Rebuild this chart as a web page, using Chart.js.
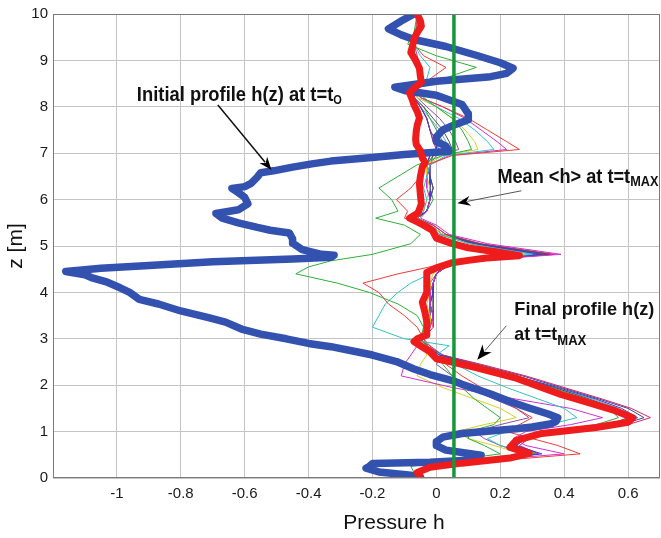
<!DOCTYPE html>
<html>
<head>
<meta charset="utf-8">
<script src="https://cdn.jsdelivr.net/npm/chart.js@4.4.1/dist/chart.umd.min.js"></script>
<style>
  html, body { margin: 0; padding: 0; background: #ffffff; }
  #wrap { width: 661px; height: 538px; }
</style>
</head>
<body>
<div id="wrap"><canvas id="c" width="661" height="538"></canvas></div>
<script>
// ---------- DATA ----------
const xTickValues = [-1, -0.8, -0.6, -0.4, -0.2, 0, 0.2, 0.4, 0.6];
const yTickValues = [0, 1, 2, 3, 4, 5, 6, 7, 8, 9, 10];

// Initial profile h(z) at t = t0 (thick blue)
const blueZ = [10.0,9.85,9.68,9.55,9.45,9.3,9.1,8.95,8.83,8.72,
  8.65,8.55,8.42,8.35,8.25,8.05,7.85,7.72,7.62,7.5,
  7.35,7.25,7.15,7.04,6.97,6.9,6.83,6.77,6.7,6.62,
  6.58,6.49,6.35,6.28,6.24,6.15,6.05,5.91,5.78,5.7,
  5.6,5.5,5.4,5.34,5.28,5.15,5.06,4.92,4.82,4.8,
  4.76,4.72,4.66,4.58,4.52,4.45,4.38,4.32,4.22,4.1,
  4.0,3.85,3.75,3.6,3.45,3.36,3.21,3.1,3.0,2.9,
  2.83,2.72,2.65,2.51,2.35,2.23,2.1,2.02,1.81,1.65,
  1.51,1.38,1.3,1.22,1.17,1.1,1.06,1.0,0.96,0.88,
  0.78,0.7,0.6,0.55,0.49,0.42,0.38,0.34,0.31,0.25,
  0.21,0.13,0.06,0.02];
const blueH = [-0.07,-0.11,-0.15,-0.11,-0.07,0.03,0.13,0.2,0.24,0.22,
  0.17,0.0,-0.13,-0.1,0.0,0.08,0.1,0.1,0.06,0.02,
  0.0,0.0,0.03,0.04,-0.1,-0.21,-0.33,-0.39,-0.45,-0.51,
  -0.55,-0.56,-0.58,-0.6,-0.64,-0.62,-0.6,-0.59,-0.62,-0.69,
  -0.67,-0.62,-0.56,-0.52,-0.46,-0.45,-0.45,-0.42,-0.36,-0.32,
  -0.33,-0.45,-0.7,-0.9,-1.05,-1.16,-1.1,-1.08,-1.03,-0.99,
  -0.96,-0.93,-0.87,-0.8,-0.71,-0.66,-0.61,-0.55,-0.47,-0.4,
  -0.33,-0.25,-0.2,-0.125,-0.07,-0.02,0.05,0.08,0.17,0.23,
  0.29,0.35,0.38,0.375,0.36,0.3,0.25,0.15,0.08,0.02,
  0.0,0.0,0.03,0.08,0.14,0.13,0.1,-0.02,-0.2,-0.21,
  -0.22,-0.18,-0.08,-0.05];

// Final profile h(z) at t = tMAX (thick red)
const redZ = [10.0,9.85,9.74,9.6,9.46,9.3,9.17,9.0,8.83,8.65,
  8.53,8.4,8.3,8.15,8.04,7.9,7.76,7.6,7.47,7.3,
  7.19,7.05,6.9,6.8,6.7,6.5,6.34,6.1,5.91,5.75,
  5.7,5.6,5.53,5.45,5.34,5.17,5.05,4.96,4.88,4.79,
  4.74,4.69,4.64,4.53,4.43,4.2,4.0,3.79,3.55,3.36,
  3.2,3.08,3.0,2.94,2.85,2.72,2.57,2.48,2.37,2.15,
  1.8,1.45,1.3,1.2,1.09,0.96,0.81,0.66,0.53,0.43,
  0.32,0.23,0.12,0.02];
const redH = [-0.06,-0.05,-0.047,-0.06,-0.07,-0.075,-0.08,-0.065,-0.053,-0.05,
  -0.047,-0.07,-0.084,-0.075,-0.07,-0.06,-0.053,-0.06,-0.063,-0.065,
  -0.063,-0.05,-0.044,-0.035,-0.044,-0.05,-0.053,-0.05,-0.047,-0.055,
  -0.06,-0.084,-0.063,-0.04,-0.013,0.0,0.05,0.1,0.18,0.26,
  0.156,0.1,0.05,0.0,-0.03,-0.03,-0.03,-0.044,-0.035,-0.03,
  -0.03,-0.03,-0.06,-0.07,-0.05,-0.02,0.0,0.06,0.13,0.25,
  0.39,0.56,0.615,0.6,0.5,0.33,0.25,0.23,0.29,0.23,
  0.08,-0.02,-0.06,-0.05];

// Mean <h> at t = tMAX
const meanH = 0.055;
const meanZ = [0, 10];

// Intermediate profiles (thin lines), sampled on a common depth grid
const zGrid = [10,9.6,9.35,9.1,8.85, 8.6,8.4,8.2,8.0,7.75, 7.5,7.25,7.08,6.95,6.75,
  6.5,6.25,6.0,5.75,5.6, 5.45,5.25,5.05,4.82,4.68, 4.55,4.4,4.2,4.0,3.75,
  3.5,3.25,3.0,2.85,2.65, 2.45,2.2,1.95,1.7,1.5, 1.3,1.15,1.0,0.85,0.7,
  0.52,0.38,0.25,0.12,0];

const hGreenA = [-0.06,-0.07,-0.09,0.00,0.125, 0.02,-0.06,-0.04,0.00,0.05, 0.08,0.10,0.11,0.02,-0.06,
  -0.12,-0.18,-0.14,-0.12,-0.19, -0.10,-0.05,-0.08,-0.20,-0.33, -0.40,-0.44,-0.31,-0.21,-0.12,
  -0.06,-0.04,-0.05,-0.03,0.00, 0.02,0.05,0.08,0.12,0.16, 0.20,0.18,0.10,0.10,0.15,
  0.20,0.05,-0.08,-0.07,-0.06];
const hRedA = [-0.06,-0.065,-0.07,-0.04,0.03, -0.02,-0.06,-0.05,0.02,0.10, 0.16,0.22,0.26,0.05,-0.03,
  -0.05,-0.08,-0.125,-0.09,-0.10, -0.04,0.00,0.08,0.20,0.05, -0.02,-0.12,-0.23,-0.18,-0.15,
  -0.10,-0.06,-0.04,-0.02,0.00, 0.03,0.08,0.14,0.20,0.25, 0.30,0.26,0.22,0.30,0.38,
  0.45,0.20,-0.02,-0.06,-0.06];
const hCyanA = [-0.06,-0.06,-0.07,-0.05,-0.02, -0.03,-0.06,-0.05,0.00,0.07, 0.12,0.16,0.18,0.03,-0.02,
  -0.03,-0.04,-0.03,-0.04,-0.06, -0.02,0.01,0.10,0.30,0.07, 0.01,-0.02,-0.08,-0.12,-0.16,
  -0.18,-0.20,-0.10,0.04,0.00, 0.06,0.13,0.22,0.32,0.40, 0.44,0.35,0.22,0.16,0.20,
  0.30,0.12,-0.01,-0.06,-0.06];
const hMagentaA = [-0.06,-0.06,-0.07,-0.06,-0.05, -0.05,-0.07,-0.05,0.02,0.09, 0.14,0.19,0.22,0.04,-0.02,
  -0.03,-0.03,-0.02,-0.03,-0.05, 0.00,0.04,0.16,0.39,0.10, 0.03,0.00,-0.01,-0.02,-0.02,
  -0.01,-0.02,-0.04,-0.06,-0.08, -0.10,-0.11,0.05,0.25,0.42, 0.52,0.42,0.28,0.24,0.28,
  0.40,0.15,0.00,-0.06,-0.06];
const hYellowA = [-0.06,-0.06,-0.07,-0.06,-0.05, -0.05,-0.07,-0.06,0.00,0.05, 0.09,0.12,0.13,0.02,-0.03,
  -0.03,-0.02,-0.03,-0.04,-0.06, -0.02,0.02,0.10,0.28,0.06, 0.02,-0.01,-0.02,-0.02,-0.03,
  -0.02,-0.02,-0.05,-0.04,-0.03, -0.05,-0.06,0.02,0.12,0.20, 0.25,0.15,0.06,0.10,0.18,
  0.27,0.10,-0.03,-0.06,-0.06];
const hBlueA = [-0.06,-0.06,-0.07,-0.07,-0.05, -0.05,-0.07,-0.07,-0.05,-0.03, -0.02,0.00,0.00,-0.02,-0.03,
  -0.02,-0.02,-0.02,-0.03,-0.07, -0.03,0.01,0.12,0.33,0.09, 0.02,0.00,-0.01,-0.01,-0.02,
  -0.01,-0.02,-0.05,-0.04,0.01, 0.12,0.25,0.38,0.50,0.58, 0.63,0.57,0.38,0.28,0.25,
  0.33,0.16,0.01,-0.05,-0.05];
const hGrayA = [-0.06,-0.06,-0.07,-0.07,-0.05, -0.05,-0.07,-0.07,-0.04,-0.01, 0.02,0.04,0.05,-0.01,-0.03,
  -0.02,-0.01,-0.02,-0.03,-0.06, -0.02,0.02,0.13,0.35,0.10, 0.03,0.00,-0.01,-0.01,-0.01,
  -0.01,-0.02,-0.05,-0.03,0.01, 0.11,0.24,0.37,0.48,0.56, 0.60,0.54,0.36,0.27,0.24,
  0.30,0.15,0.01,-0.05,-0.05];
const hPurpleA = [-0.06,-0.06,-0.07,-0.07,-0.05, -0.05,-0.07,-0.06,-0.03,0.01, 0.04,0.06,0.07,0.00,-0.02,
  -0.02,-0.01,-0.02,-0.03,-0.06, -0.02,0.02,0.11,0.32,0.08, 0.02,0.00,-0.02,-0.02,-0.02,
  -0.02,-0.03,-0.06,-0.02,0.02, 0.00,0.05,0.10,0.18,0.25, 0.29,0.20,0.12,0.15,0.20,
  0.28,0.12,0.00,-0.05,-0.05];
const hGreenB = [-0.06,-0.06,-0.07,-0.07,-0.05, -0.05,-0.07,-0.07,-0.04,-0.02, 0.00,0.02,0.03,-0.01,-0.02,
  -0.02,-0.02,-0.01,-0.03,-0.06, -0.02,0.02,0.12,0.34,0.09, 0.03,0.00,-0.01,-0.02,-0.02,
  -0.02,-0.02,-0.05,-0.03,0.01, 0.12,0.24,0.36,0.47,0.54, 0.57,0.50,0.34,0.26,0.24,
  0.31,0.14,0.01,-0.05,-0.05];
const hRedB = [-0.06,-0.06,-0.07,-0.07,-0.05, -0.05,-0.07,-0.07,-0.05,-0.03, -0.02,-0.01,0.00,-0.02,-0.03,
  -0.02,-0.02,-0.02,-0.03,-0.06, -0.01,0.03,0.14,0.37,0.11, 0.03,0.00,-0.01,-0.01,-0.02,
  -0.01,-0.01,-0.04,-0.03,0.02, 0.14,0.28,0.40,0.52,0.61, 0.67,0.60,0.40,0.29,0.26,
  0.32,0.18,0.02,-0.05,-0.05];
const hCyanB = [-0.06,-0.06,-0.07,-0.07,-0.05, -0.05,-0.07,-0.07,-0.05,-0.02, 0.01,0.03,0.04,-0.01,-0.02,
  -0.02,-0.01,-0.02,-0.03,-0.06, -0.02,0.01,0.11,0.31,0.08, 0.02,0.00,-0.01,-0.01,-0.02,
  -0.02,-0.02,-0.05,-0.03,0.01, 0.12,0.25,0.37,0.49,0.57, 0.62,0.55,0.37,0.27,0.25,
  0.32,0.16,0.01,-0.05,-0.05];
const hNavyB = [-0.06,-0.06,-0.07,-0.07,-0.05, -0.05,-0.07,-0.07,-0.05,-0.03, -0.02,-0.01,0.01,-0.02,-0.03,
  -0.02,-0.02,-0.02,-0.03,-0.06, -0.01,0.03,0.13,0.36,0.10, 0.03,0.00,-0.01,-0.01,-0.02,
  -0.01,-0.02,-0.05,-0.03,0.02, 0.13,0.27,0.39,0.51,0.60, 0.65,0.58,0.39,0.28,0.25,
  0.31,0.17,0.02,-0.05,-0.05];

const thinSeries = [
  { h: hGreenA,   color: '#2fae3a' },
  { h: hRedA,     color: '#f03a3a' },
  { h: hCyanA,    color: '#30c4c4' },
  { h: hMagentaA, color: '#d030d0' },
  { h: hYellowA,  color: '#d8d020' },
  { h: hBlueA,    color: '#3a3ad0' },
  { h: hGrayA,    color: '#505050' },
  { h: hPurpleA,  color: '#8050b0' },
  { h: hGreenB,   color: '#3aa040' },
  { h: hRedB,     color: '#e02060' },
  { h: hCyanB,    color: '#40b8c8' },
  { h: hNavyB,    color: '#304898' }
];

// ---------- CHART ----------
const FONT = "'Liberation Sans', Arial, Helvetica, sans-serif";

const datasets = [];
datasets.push({
  label: 'Mean <h> at t=tMAX',
  data: meanZ.map(z => ({ x: meanH, y: z })),
  borderColor: '#17973a', borderWidth: 3.5, showLine: true, pointRadius: 0, order: 0
});
datasets.push({
  label: 'Final profile',
  data: redZ.map((z, i) => ({ x: redH[i], y: z })),
  borderColor: '#ee1c1c', borderWidth: 7, showLine: true, pointRadius: 0,
  borderJoinStyle: 'round', borderCapStyle: 'round', order: 1
});
datasets.push({
  label: 'Initial profile',
  data: blueZ.map((z, i) => ({ x: blueH[i], y: z })),
  borderColor: '#3352b0', borderWidth: 7.5, showLine: true, pointRadius: 0,
  borderJoinStyle: 'round', borderCapStyle: 'round', order: 2
});
thinSeries.forEach((s, k) => {
  datasets.push({
    label: 'profile ' + (k + 1),
    data: zGrid.map((z, i) => ({ x: s.h[i], y: z })),
    borderColor: s.color, borderWidth: 1, showLine: true, pointRadius: 0, order: 3 + k
  });
});

function drawRich(ctx, parts, x, y, targetWidth) {
  ctx.save();
  let total = 0;
  parts.forEach(p => { ctx.font = p.font; total += ctx.measureText(p.t).width; });
  const sx = targetWidth ? targetWidth / total : 1;
  ctx.translate(x, y);
  ctx.scale(sx, 1);
  let cx = 0;
  ctx.fillStyle = '#111';
  ctx.textBaseline = 'alphabetic';
  ctx.textAlign = 'left';
  parts.forEach(p => {
    ctx.font = p.font;
    ctx.fillText(p.t, cx, p.dy || 0);
    cx += ctx.measureText(p.t).width;
  });
  ctx.restore();
}

function arrow(ctx, x1, y1, x2, y2, color, lw, headLen, headW) {
  const ang = Math.atan2(y2 - y1, x2 - x1);
  const bx = x2 - headLen * Math.cos(ang), by = y2 - headLen * Math.sin(ang);
  ctx.save();
  ctx.strokeStyle = color; ctx.lineWidth = lw;
  ctx.beginPath(); ctx.moveTo(x1, y1); ctx.lineTo(bx + 3 * Math.cos(ang), by + 3 * Math.sin(ang)); ctx.stroke();
  ctx.fillStyle = '#000';
  ctx.beginPath();
  ctx.moveTo(x2, y2);
  ctx.lineTo(bx + headW * Math.sin(ang), by - headW * Math.cos(ang));
  ctx.lineTo(bx + headLen * 0.3 * Math.cos(ang), by + headLen * 0.3 * Math.sin(ang));
  ctx.lineTo(bx - headW * Math.sin(ang), by + headW * Math.cos(ang));
  ctx.closePath(); ctx.fill();
  ctx.restore();
}

const overlay = {
  id: 'overlay',
  afterDraw(chart) {
    const ctx = chart.ctx;
    const a = chart.chartArea;
    const xs = chart.scales.x, ys = chart.scales.y;
    const px = v => xs.getPixelForValue(v), py = v => ys.getPixelForValue(v);
    // box
    ctx.save();
    ctx.strokeStyle = '#7a7a7a'; ctx.lineWidth = 1;
    ctx.strokeRect(a.left + 0.5, a.top + 0.5, a.right - a.left - 1, a.bottom - a.top - 1);
    ctx.restore();

    // annotation 1
    drawRich(ctx, [
      { t: 'Initial profile h(z) at t=t', font: 'bold 20px ' + FONT },
      { t: 'O', font: 'bold 12px ' + FONT, dy: 3 }
    ], px(-0.9375), py(8.13), 205);
    arrow(ctx, px(-0.684), py(8.04), px(-0.516), py(6.64), '#111', 1.5, 13, 5);

    // annotation 2
    drawRich(ctx, [
      { t: 'Mean <h> at t=t', font: 'bold 20px ' + FONT },
      { t: 'MAX', font: 'bold 14px ' + FONT, dy: 3 }
    ], px(0.191), py(6.36), 161);
    arrow(ctx, px(0.266), py(6.19), px(0.066), py(5.92), '#555', 1, 13, 5);

    // annotation 3
    drawRich(ctx, [
      { t: 'Final profile h(z)', font: 'bold 19px ' + FONT }
    ], px(0.244), py(3.51), 140);
    drawRich(ctx, [
      { t: 'at t=t', font: 'bold 19px ' + FONT },
      { t: 'MAX', font: 'bold 14px ' + FONT, dy: 5 }
    ], px(0.244), py(2.98), 72);
    arrow(ctx, px(0.219), py(3.28), px(0.128), py(2.55), '#555', 1, 15, 6);

    // axis titles
    ctx.save();
    ctx.fillStyle = '#111';
    ctx.font = '21px ' + FONT;
    ctx.textAlign = 'center'; ctx.textBaseline = 'alphabetic';
    ctx.fillText('Pressure h', 394, 529);
    ctx.translate(22, (a.top + a.bottom) / 2);
    ctx.rotate(-Math.PI / 2);
    ctx.fillText('z [m]', 0, 0);
    ctx.restore();
  }
};

const fmt = v => {
  const r = Math.round(v * 10) / 10;
  return String(r);
};

new Chart(document.getElementById('c'), {
  type: 'scatter',
  data: { datasets },
  options: {
    responsive: false,
    animation: false,
    events: [],
    layout: { padding: { top: 8, right: 1, left: 0, bottom: 0 } },
    plugins: { legend: { display: false }, tooltip: { enabled: false } },
    scales: {
      x: {
        type: 'linear', min: -1.2, max: 0.7,
        afterBuildTicks: s => { s.ticks = xTickValues.map(v => ({ value: v })); },
        afterFit: s => { s.height = 60; },
        grid: { color: '#c4c4c4', lineWidth: 1, drawTicks: false },
        border: { display: false },
        ticks: { padding: 7, color: '#1a1a1a', font: { family: FONT, size: 15 }, callback: v => fmt(v), maxRotation: 0, autoSkip: false }
      },
      y: {
        type: 'linear', min: 0, max: 10,
        afterBuildTicks: s => { s.ticks = yTickValues.map(v => ({ value: v })); },
        afterFit: s => { s.width = 53; },
        grid: { color: '#c4c4c4', lineWidth: 1, drawTicks: false },
        border: { display: false },
        ticks: { padding: 5, color: '#1a1a1a', font: { family: FONT, size: 15 }, callback: v => fmt(v), autoSkip: false }
      }
    }
  },
  plugins: [overlay]
});
</script>
</body>
</html>
